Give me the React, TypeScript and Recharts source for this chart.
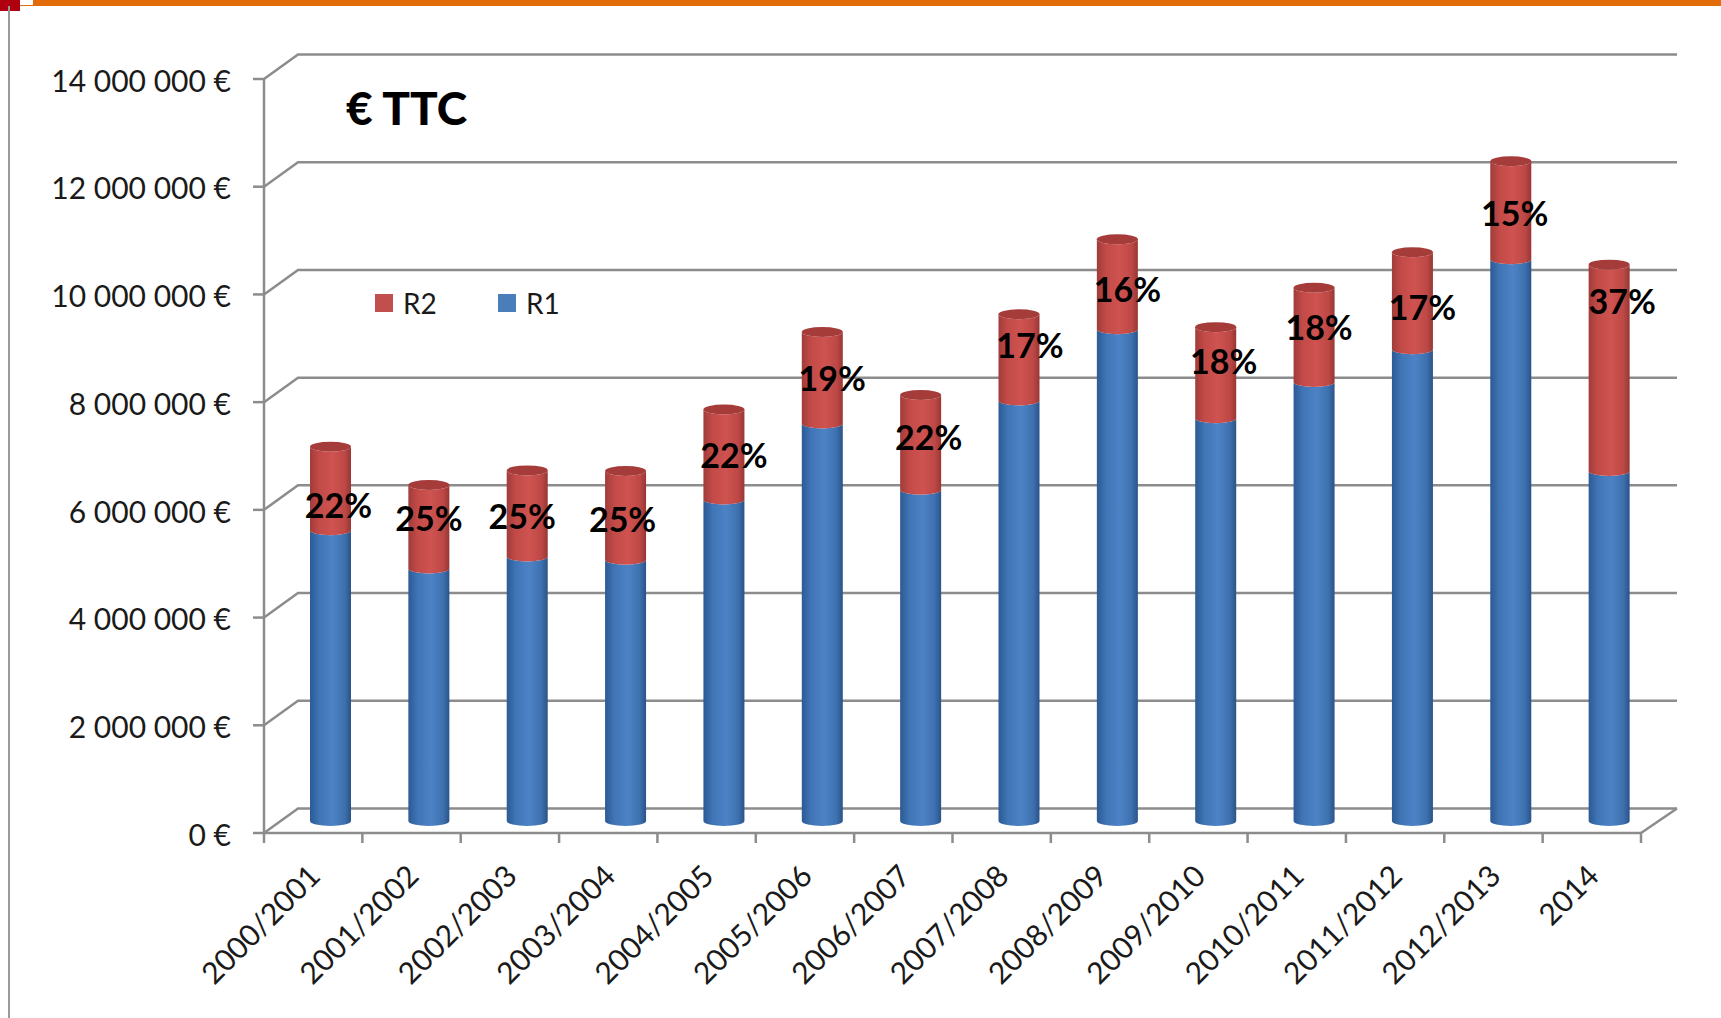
import { Bar, BarChart, CartesianGrid, Legend, LabelList, XAxis, YAxis } from 'recharts';

const categories = [
    '2000/2001', '2001/2002', '2002/2003', '2003/2004', '2004/2005', '2005/2006', '2006/2007',
    '2007/2008', '2008/2009', '2009/2010', '2010/2011', '2011/2012', '2012/2013', '2014',
];
const r1Values = [
    5400000, 4690000, 4910000, 4850000, 5970000, 7380000, 6150000,
    7810000, 9130000, 7480000, 8150000, 8760000, 10430000, 6500000,
];
const r2Values = [
    1550000, 1550000, 1600000, 1650000, 1670000, 1700000, 1760000,
    1600000, 1670000, 1690000, 1750000, 1800000, 1820000, 3830000,
];
const r2Shares = [22, 25, 25, 25, 22, 19, 22, 17, 16, 18, 18, 17, 15, 37];
const yTicks = [0, 2000000, 4000000, 6000000, 8000000, 10000000, 12000000, 14000000];

const chartData = categories.map((name, i) => ({
    name,
    r1: r1Values[i],
    r2: r2Values[i],
    share: r2Shares[i],
}));

// the percent labels sit by hand in the original, these are their nudges in px
const labelNudgeX = [8, 0, -5, -3, 10, 10, 8, 11, 10, 8, 5, 10, 4, 13];
const labelNudgeY = [16, -9, 2, 3, 0, 0, -6, -13, 4, -12, -8, 6, 2, -67];

const FONT = 'Lato, Carlito, sans-serif';
const AXIS_COLOR = '#8c8c8c';
const WALL_DX = 34;
const WALL_DY = -24.5;
const BAR_DX = 17;
const BAR_DY = -12;
const RY = 5;
const BAND = 1377 / 14;

function formatEuro(value: number) {
    return `${String(value).replace(/\B(?=(\d{3})+(?!\d))/g, ' ')} €`;
}

function Cylinder({ x, y, width, height, fill, top }: any) {
    const left = x + BAR_DX;
    const right = left + width;
    const topY = y + BAR_DY;
    const bottomY = topY + height;
    const rx = width / 2;
    const body = `M${left},${topY} L${left},${bottomY} A${rx},${RY} 0 0 0 ${right},${bottomY} L${right},${topY} A${rx},${RY} 0 0 1 ${left},${topY} Z`;
    return (
        <g>
            <path d={body} fill={fill} />
            {top ? <ellipse cx={left + rx} cy={topY} rx={rx} ry={RY} fill={top} /> : null}
        </g>
    );
}

function GridLine({ x1, x2, y1 }: any) {
    const isFloor = Math.abs(y1 - 833) < 1;
    return (
        <g>
            <path
                d={`M${x1},${y1} L${x1 + WALL_DX},${y1 + WALL_DY} L${x2 + WALL_DX + 2},${y1 + WALL_DY}`}
                fill="none"
                stroke={AXIS_COLOR}
                strokeWidth={2.5}
            />
            {isFloor ? (
                <path d={`M${x2},${y1} L${x2 + WALL_DX + 2},${y1 + WALL_DY}`} fill="none" stroke={AXIS_COLOR} strokeWidth={2.5} />
            ) : null}
        </g>
    );
}

function CategoryTick({ x, y, payload, index }: any) {
    const edge = x - BAND / 2;
    const labelX = x + 9;
    const labelY = y + 37;
    return (
        <g>
            <line x1={edge} x2={edge} y1={y - 8} y2={y + 2} stroke={AXIS_COLOR} strokeWidth={2.5} />
            {index === categories.length - 1 ? (
                <line x1={edge + BAND} x2={edge + BAND} y1={y - 8} y2={y + 2} stroke={AXIS_COLOR} strokeWidth={2.5} />
            ) : null}
            <text
                x={labelX}
                y={labelY}
                textAnchor="end"
                transform={`rotate(-45 ${labelX} ${labelY})`}
                fontFamily={FONT}
                fontSize={30}
                fill="#1a1a1a"
            >
                {payload.value}
            </text>
        </g>
    );
}

function ShareLabel({ x, y, width, height, value, index }: any) {
    return (
        <text
            x={x + BAR_DX + width / 2 + labelNudgeX[index]}
            y={y + BAR_DY + height / 2 + labelNudgeY[index]}
            textAnchor="middle"
            dominantBaseline="central"
            fontFamily={FONT}
            fontWeight={700}
            fontSize={34}
            fill="#000"
        >
            {value}%
        </text>
    );
}

function LegendContent({ payload }: any) {
    const items = [...(payload ?? [])].reverse();
    return (
        <div style={{ display: 'flex', fontFamily: FONT, fontSize: 28, color: '#1a1a1a', lineHeight: '34px' }}>
            {items.map((item: any) => (
                <div key={item.value} style={{ display: 'flex', alignItems: 'center', width: 123 }}>
                    <span style={{ width: 18, height: 18, marginRight: 10, background: item.value === 'R2' ? '#c0504d' : '#4a7ebb' }} />
                    {item.value}
                </div>
            ))}
        </div>
    );
}

export default function App() {
    return (
        <div style={{ position: 'absolute', left: 0, top: 0, width: 1721, height: 1018, background: '#fff', overflow: 'hidden' }}>
            <div style={{ position: 'absolute', left: 0, top: 0, width: 1721, height: 6, background: '#e36c0a' }} />
            <div style={{ position: 'absolute', left: 0, top: 0, width: 20, height: 11, background: '#b00010' }} />
            <div style={{ position: 'absolute', left: 20, top: 0, width: 13, height: 5, background: '#fff' }} />
            <div style={{ position: 'absolute', left: 8, top: 6, width: 2, height: 1012, background: '#9a9a9a' }} />
            <BarChart
                width={1721}
                height={1018}
                data={chartData}
                barSize={41}
                margin={{ top: 79, right: 80, bottom: 18, left: 0 }}
            >
                <defs>
                    <linearGradient id="blueBody" x1="0" y1="0" x2="1" y2="0">
                        <stop offset="0" stopColor="#2c5a94" />
                        <stop offset="0.22" stopColor="#3f74b5" />
                        <stop offset="0.55" stopColor="#4d83c6" />
                        <stop offset="0.85" stopColor="#3d70ae" />
                        <stop offset="1" stopColor="#2a5388" />
                    </linearGradient>
                    <linearGradient id="redBody" x1="0" y1="0" x2="1" y2="0">
                        <stop offset="0" stopColor="#a03c3a" />
                        <stop offset="0.22" stopColor="#c24a47" />
                        <stop offset="0.55" stopColor="#cf5350" />
                        <stop offset="0.85" stopColor="#bd4845" />
                        <stop offset="1" stopColor="#963734" />
                    </linearGradient>
                </defs>
                <CartesianGrid horizontal={GridLine as any} vertical={false} syncWithTicks />
                <XAxis
                    dataKey="name"
                    interval={0}
                    height={167}
                    tickLine={false}
                    axisLine={{ stroke: AXIS_COLOR, strokeWidth: 2.5 }}
                    tick={CategoryTick as any}
                />
                <YAxis
                    width={264}
                    domain={[0, 14000000]}
                    ticks={yTicks}
                    tickFormatter={formatEuro}
                    tickSize={11}
                    tickMargin={22}
                    axisLine={{ stroke: AXIS_COLOR, strokeWidth: 2.5 }}
                    tickLine={{ stroke: AXIS_COLOR, strokeWidth: 2.5 }}
                    tick={{ fontFamily: FONT, fontSize: 30, fill: '#1a1a1a', dy: 2 }}
                />
                <Legend
                    layout="horizontal"
                    verticalAlign="middle"
                    wrapperStyle={{ left: 375, top: 286, width: 260 }}
                    content={LegendContent as any}
                />
                <Bar dataKey="r1" name="R1" stackId="a" fill="url(#blueBody)" shape={Cylinder as any} isAnimationActive={false} />
                <Bar
                    dataKey="r2"
                    name="R2"
                    stackId="a"
                    fill="url(#redBody)"
                    shape={(props: any) => <Cylinder {...props} top="#a53c3a" />}
                    isAnimationActive={false}
                >
                    <LabelList dataKey="share" content={ShareLabel as any} />
                </Bar>
            </BarChart>
            <div
                style={{
                    position: 'absolute',
                    left: 346,
                    top: 80,
                    fontFamily: FONT,
                    fontWeight: 900,
                    fontSize: 46,
                    lineHeight: '56px',
                    color: '#000',
                }}
            >
                € TTC
            </div>
        </div>
    );
}
